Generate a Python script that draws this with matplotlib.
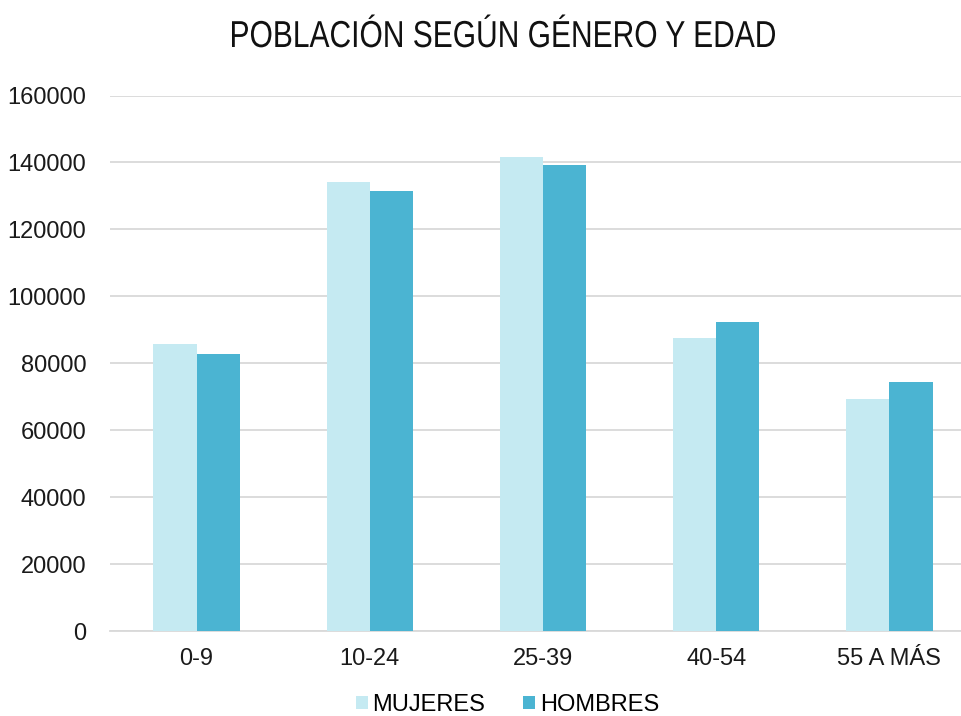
import matplotlib
matplotlib.use("Agg")
import matplotlib.pyplot as plt
import numpy as np
from matplotlib.textpath import TextPath
from matplotlib.patches import PathPatch
from matplotlib.font_manager import FontProperties
import matplotlib.transforms as mtransforms

plt.rcParams["font.family"] = ["Liberation Sans", "DejaVu Sans"]

categories = ["0-9", "10-24", "25-39", "40-54", "55 A MÁS"]
mujeres = [85700, 134200, 141600, 87500, 69300]
hombres = [82800, 131500, 139200, 92300, 74400]
series_labels = ["MUJERES", "HOMBRES"]
colors = ["#C5EAF2", "#4BB4D2"]
title = "POBLACIÓN SEGÚN GÉNERO Y EDAD"

W, H = 961, 716
fig = plt.figure(figsize=(W / 100, H / 100), dpi=100)
ax = fig.add_axes([110 / W, 1 - 631 / H, 866 / W, (631 - 95.5) / H])

x = np.arange(len(categories))
w = 0.25
ax.bar(x - w / 2, mujeres, w, color=colors[0], label=series_labels[0], zorder=3)
ax.bar(x + w / 2, hombres, w, color=colors[1], label=series_labels[1], zorder=3)

ax.set_xlim(-0.5, len(categories) - 0.5)
ax.set_ylim(0, 160000)
ax.set_yticks(np.arange(0, 160001, 20000))
ax.yaxis.grid(True, color="#D9D9D9", linewidth=1.3, zorder=0)
ax.set_axisbelow(True)
for s in ["left", "right", "top"]:
    ax.spines[s].set_visible(False)
ax.spines["bottom"].set_color("#D9D9D9")
ax.spines["bottom"].set_linewidth(1.3)
ax.tick_params(axis="both", length=0, labelsize=17, colors="#1A1A1A")
ax.tick_params(axis="y", pad=17)
ax.tick_params(axis="x", pad=12)
ax.set_xticks(x)
ax.set_xticklabels(categories)

# Condensed title: outline of the text, squeezed horizontally
tp = TextPath((0, 0), title, size=37.5, prop=FontProperties(family="Liberation Sans"))
ext = tp.get_extents()
target_w = 543
sx = target_w / ext.width
cx = 503.5
baseline = H - 47
tr = mtransforms.Affine2D().translate(-ext.x0, 0).scale(sx, 1).translate(cx - target_w / 2, baseline)
fig.patches.append(PathPatch(tp, transform=tr, facecolor="#111111", edgecolor="none",
                             figure=fig))

fig.legend(loc="center", bbox_to_anchor=(0.528, 1 - 705 / H), ncol=2, frameon=False,
           fontsize=17, handlelength=0.5, handleheight=0.5, handletextpad=0.2,
           columnspacing=1.6)

fig.savefig("out.png", dpi=100)
